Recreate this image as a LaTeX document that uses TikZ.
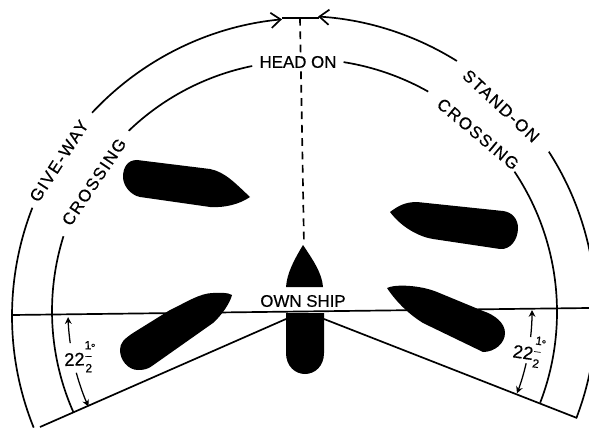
\documentclass[tikz,border=0pt]{standalone}
\usepackage{fontspec}
\usepackage{amsmath}
\setmainfont{Liberation Sans}
\newfontfamily\plainfont[FakeBold=0.5]{Liberation Sans}
\newfontfamily\spacedfont[LetterSpace=9, FakeBold=0.5]{Liberation Sans}
\usetikzlibrary{arrows.meta}

\tikzset{
    rim/.style={line width=1.2pt},
    hull/.style={fill=black, draw=none},
    sector/.style={font=\fontsize{12}{14}\spacedfont},
    plainlabel/.style={font=\fontsize{12}{14}\plainfont, inner sep=0pt},
    barb/.style={-{Straight Barb[length=2.4mm, width=3.8mm]}},
    span/.style={-{Stealth[length=1.7mm, width=1.7mm]}, line width=0.9pt}
}
\newcommand{\halfdeg}{{\fontsize{13}{14}\plainfont 22}\hspace{-0.8pt}\raisebox{0.5ex}{$\dfrac{\mbox{\fontsize{8.5}{9}\plainfont 1}}{\mbox{\fontsize{8.5}{9}\plainfont 2}}$}\hspace{-1.5pt}\raisebox{1.5ex}{\footnotesize °}}

\begin{document}
\begin{tikzpicture}[x=0.025cm, y=0.025cm]

    \clip (0,0) rectangle (589,428);
    \fill[white] (0,0) rectangle (589,428);

    % Centres of the rings
    \def\Router{298}
    \def\Rright{296}
    \def\Rinner{250}
    \def\Rinnerright{253}
    \coordinate (outerleft) at (310,112);
    \coordinate (outerright) at (300,116);
    \coordinate (innerleft) at (302,117);
    \coordinate (innerright) at (304,116);

    % Own ship heading line and sector limits
    \draw[rim] (12,113) -- (589,120);
    \draw[rim] (286,109) -- (40,1);
    \draw[rim] (324,109) -- (577,10);
    \draw[rim, dash pattern=on 5.5pt off 4pt] (300,410) -- (304,183);

    % Outer ring
    \draw[rim, barb] ([shift={(outerleft)}]137:\Router) arc (137:95.4:\Router);
    \draw[rim] ([shift={(outerleft)}]158.7:\Router) arc (158.7:202:\Router);
    \draw[rim, barb] ([shift={(outerright)}]58:\Rright) arc (58:86.5:\Rright);
    \draw[rim] ([shift={(outerright)}]32.8:\Rright) arc (32.8:-21:\Rright);
    \draw[rim] (282,410) -- (319,410);

    % Inner ring
    \draw[rim] ([shift={(innerleft)}]101.5:\Rinner) arc (101.5:133.9:\Rinner);
    \draw[rim] ([shift={(innerleft)}]162.6:\Rinner) arc (162.6:204:\Rinner);
    \draw[rim] ([shift={(innerright)}]81:\Rinnerright) arc (81:60.6:\Rinnerright);
    \draw[rim] ([shift={(innerright)}]33.7:\Rinnerright) arc (33.7:-21:\Rinnerright);

    % Angle spans
    \draw[span] ([shift={(innerleft)}]187.9:234) arc (187.9:181.5:234);
    \draw[span] ([shift={(innerleft)}]195.3:234) arc (195.3:204.1:234);
    \draw[span] ([shift={(innerright)}]-6.3:228) arc (-6.3:0.5:228);
    \draw[span] ([shift={(innerright)}]-13:228) arc (-13:-20.9:228);

    % Own ship
    \fill[hull] (303,183) .. controls (294,168) and (287,155) .. (286,141) -- (323,141) .. controls (322,155) and (313,168) .. (303,183) -- cycle;
    \fill[hull] (286,115) -- (324,115) -- (324,75) .. controls (324,62) and (315,54) .. (305,54) .. controls (295,54) and (286,62) .. (286,75) -- cycle;

    % Other ships
    \fill[hull] (250,231) .. controls (235,245) and (225,256) .. (210,259) -- (137,268) .. controls (127,268) and (123,260) .. (123,251) .. controls (123,243) and (130,233) .. (140,231) -- (210,221) .. controls (225,220) and (240,224) .. (250,231) -- cycle;
    \fill[hull] (390,216) .. controls (398,222) and (405,226) .. (417,226) -- (503,217) .. controls (512,216) and (518,209) .. (518,200) .. controls (518,188) and (510,178) .. (500,179) -- (433,189) .. controls (420,191) and (402,200) .. (390,216) -- cycle;
    \fill[hull] (232,133) .. controls (227,136) and (220,135) .. (213,135) .. controls (200,135) and (185,125) .. (170,118) -- (133,95) .. controls (124,89) and (120,85) .. (120,78) .. controls (120,68) and (128,58) .. (138,58) .. controls (144,58) and (148,59) .. (152,62) -- (213,105) .. controls (222,113) and (230,125) .. (232,133) -- cycle;
    \fill[hull] (387,140) .. controls (395,144) and (420,143) .. (437,136) -- (483,117) .. controls (495,113) and (505,105) .. (505,95) .. controls (505,85) and (495,76) .. (483,76) -- (423,105) .. controls (410,113) and (397,125) .. (387,140) -- cycle;

    % Labels
    \node[plainlabel, fill=white, inner xsep=3pt, inner ysep=2pt] (headon) at (298,366) {HEAD ON};
    \node[plainlabel] (ownship) at (303,127) {OWN SHIP};
    \node[sector, rotate=57] (giveway) at (59,267) {GIVE-WAY};
    \node[sector, rotate=56] (crossleft) at (94,246) {CROSSING};
    \node[sector, rotate=-43] (standon) at (501,322) {STAND-ON};
    \node[sector, rotate=-40] (crossright) at (478,294) {CROSSING};
    \node[plainlabel, rotate=2] (spanleft) at (80,71) {\halfdeg};
    \node[plainlabel, rotate=-8] (spanright) at (529,77) {\halfdeg};

\end{tikzpicture}
\end{document}
